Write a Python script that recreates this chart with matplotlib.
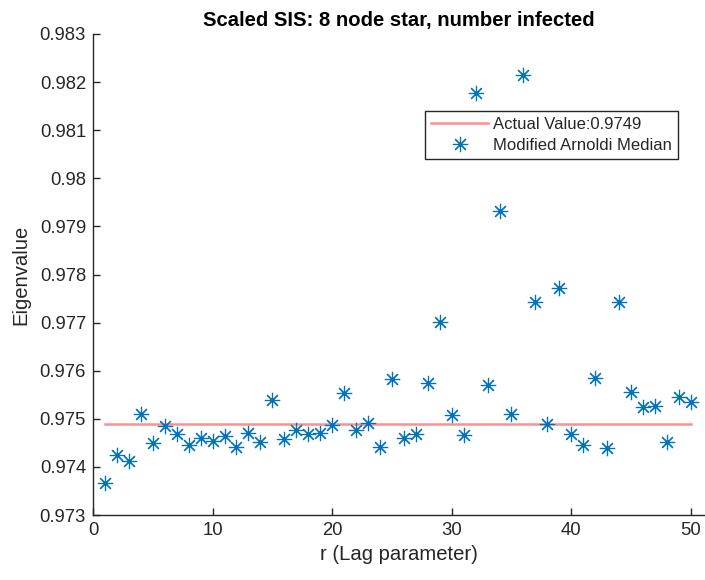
import numpy as np
import matplotlib
matplotlib.use("Agg")
import matplotlib.pyplot as plt

plt.rcParams['font.family'] = ['Liberation Sans', 'DejaVu Sans']

# Lag parameter values and median eigenvalue estimates
r_values = list(range(1, 51))
median_eigs = [
    0.97366, 0.97424, 0.97413, 0.97509, 0.97449, 0.97485, 0.97468, 0.97446, 0.97461, 0.97453,
    0.97464, 0.97442, 0.97470, 0.97452, 0.97539, 0.97457, 0.97476, 0.97469, 0.97471, 0.97487,
    0.97554, 0.97476, 0.97491, 0.97441, 0.97583, 0.97460, 0.97469, 0.97574, 0.97701, 0.97507,
    0.97466, 0.98177, 0.97570, 0.97932, 0.97510, 0.98215, 0.97742, 0.97489, 0.97772, 0.97468,
    0.97446, 0.97584, 0.97439, 0.97742, 0.97555, 0.97524, 0.97527, 0.97452, 0.97545, 0.97535,
]
actual_value = 0.9749

y_ticks = [0.973, 0.974, 0.975, 0.976, 0.977, 0.978, 0.979, 0.98, 0.981, 0.982, 0.983]
y_tick_labels = ['0.973', '0.974', '0.975', '0.976', '0.977', '0.978', '0.979', '0.98',
                 '0.981', '0.982', '0.983']
x_ticks = [0, 10, 20, 30, 40, 50]

axis_gray = (0.15, 0.15, 0.15)
blue = (0.0, 0.447, 0.741)

fig = plt.figure(figsize=(7.05, 5.8), dpi=100)
ax = fig.add_axes([93 / 705, 65 / 580, (704 - 93) / 705, (515 - 34) / 580])

ax.plot([r_values[0], r_values[-1]], [actual_value, actual_value],
        color=(1.0, 0.45, 0.45), alpha=0.8, linewidth=1.8,
        label='Actual Value:%.4f' % actual_value)
ax.plot(r_values, median_eigs, linestyle='none', marker=(8, 2, 0), markersize=11,
        markeredgewidth=0.85, color=blue, label='Modified Arnoldi Median')

ax.set_xlim(0, 51.1)
ax.set_ylim(0.973, 0.983)
ax.set_xticks(x_ticks)
ax.set_yticks(y_ticks)
ax.set_yticklabels(y_tick_labels)

for side in ('top', 'right'):
    ax.spines[side].set_visible(False)
for side in ('left', 'bottom'):
    ax.spines[side].set_color(axis_gray)
    ax.spines[side].set_linewidth(1.0)
ax.tick_params(direction='in', length=5, width=1.0, colors=axis_gray,
               labelsize=13.3, labelcolor=axis_gray, pad=5)

ax.set_title('Scaled SIS: 8 node star, number infected', fontsize=14.6,
             fontweight='bold', color='black', pad=6)
ax.set_xlabel('r (Lag parameter)', fontsize=14.6, color=axis_gray, labelpad=4)
ax.set_ylabel('Eigenvalue', fontsize=14.6, color=axis_gray, labelpad=7)

leg = ax.legend(loc='upper right', bbox_to_anchor=(677.7 / 705, 1 - 111 / 580),
                bbox_transform=fig.transFigure, fontsize=12, frameon=True,
                fancybox=False, shadow=False, handlelength=3.4, handletextpad=0.3,
                borderpad=0.35, labelspacing=0.35, borderaxespad=0)
leg.get_frame().set_edgecolor(axis_gray)
leg.get_frame().set_linewidth(1.0)
leg.get_frame().set_alpha(1.0)
for t in leg.get_texts():
    t.set_color(axis_gray)

fig.savefig('out.png', dpi=100)
